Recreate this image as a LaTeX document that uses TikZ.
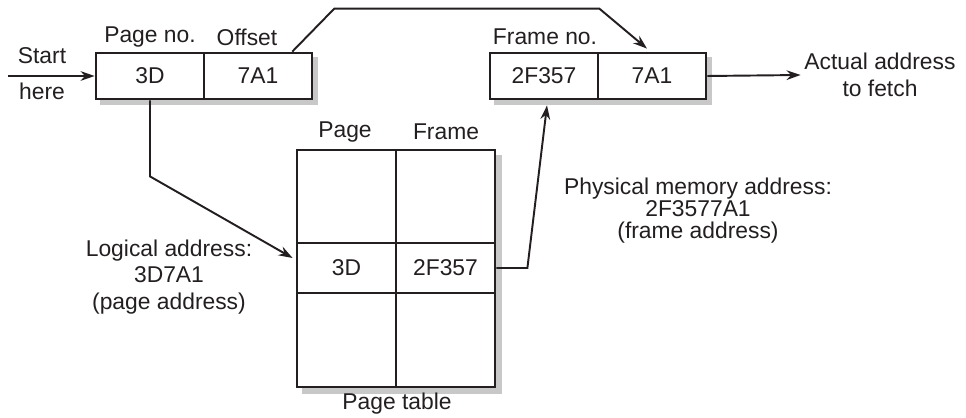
\documentclass[tikz,border=0pt]{standalone}
\usepackage{fontspec}
\setmainfont{Liberation Sans}
\usepackage{tikz}
\usetikzlibrary{arrows.meta, positioning, backgrounds}
\definecolor{inkgray}{HTML}{231F20}
\definecolor{shadegray}{HTML}{C8C8C8}
\tikzset{
  cellnode/.style={draw=inkgray,fill=white,line width=1.6pt,minimum width=2.16cm,minimum height=0.92cm,inner sep=0pt,font=\fontsize{13}{15}\selectfont,text=inkgray},
  tabcell/.style={cellnode,minimum width=1.98cm},
  txtnode/.style={font=\fontsize{13}{15}\selectfont,text=inkgray,align=center,inner sep=2pt},
  flowedge/.style={-{Stealth[length=8pt,width=5.5pt]},line width=1.1pt,draw=inkgray},
  shadebox/.style={fill=shadegray},
}
\begin{document}
\begin{tikzpicture}[x=0.02cm,y=-0.02cm]
  \useasboundingbox (0,0) rectangle (966,418);
  % ---- logical address register ----
  \node[cellnode] (pgno) at (150,76) {3D};
  \node[cellnode] (offs) at (258,76) {7A1};
  \node[txtnode] (lblpg) at (150,37) {Page no.};
  \node[txtnode] (lbloff) at (247,37) {Offset};
  \node[txtnode] (lblstart) at (42,56) {Start};
  \node[txtnode] (lblhere) at (42,91) {here};
  \coordinate (entry) at (8,76);
  % ---- physical address register ----
  \node[cellnode] (frno) at (544,76) {2F357};
  \node[cellnode] (offs2) at (652,76) {7A1};
  \node[txtnode] (lblfr) at (545,37) {Frame no.};
  \node[txtnode] (fetch) at (880,75) {Actual address\\to fetch};
  % ---- page table ----
  \node[tabcell,minimum height=1.86cm] (ptA) at (346.5,196.5) {};
  \node[tabcell,minimum height=1.86cm] (ftA) at (445.5,196.5) {};
  \node[tabcell,minimum height=1.0cm] (ptB) at (346.5,268) {3D};
  \node[tabcell,minimum height=1.0cm] (ftB) at (445.5,268) {2F357};
  \node[tabcell,minimum height=1.88cm] (ptC) at (346.5,340) {};
  \node[tabcell,minimum height=1.88cm] (ftC) at (445.5,340) {};
  \node[txtnode] (lblpage) at (345,132) {Page};
  \node[txtnode] (lblframe) at (446,132) {Frame};
  \node[txtnode] (lbltable) at (397,404) {Page table};
  % ---- address notes ----
  \node[txtnode] (logaddr) at (169,277) {Logical address:\\3D7A1\\(page address)};
  \node[txtnode,font=\fontsize{13}{12.5}\selectfont] (physaddr) at (698,211) {Physical memory address:\\2F3577A1\\(frame address)};
  % ---- connectors ----
  \draw[flowedge] (entry) -- (pgno.west);
  \draw[flowedge] (pgno.south) -- ++(0,76) -- ([shift={(-3,-10)}]ptB.west);
  \draw[flowedge] ([xshift=-12pt]offs.north east) -- ++(42,-43) -- ++(265,0) -- ([shift={(-5,-3)}]offs2.north);
  \draw[flowedge] (ftB.east) -- ++(31,0) -- ([shift={(3,5)}]frno.south);
  \draw[flowedge] (offs2.east) -- (fetch.west);
  % drop shadows behind the boxes
  \begin{scope}[on background layer]
    \fill[shadebox] ([shift={(5,5)}]pgno.north west) rectangle ([shift={(5,5)}]offs.south east);
    \fill[shadebox] ([shift={(5,5)}]frno.north west) rectangle ([shift={(5,5)}]offs2.south east);
    \fill[shadebox] ([shift={(6,6)}]ptA.north west) rectangle ([shift={(6,6)}]ftC.south east);
  \end{scope}
\end{tikzpicture}
\end{document}
